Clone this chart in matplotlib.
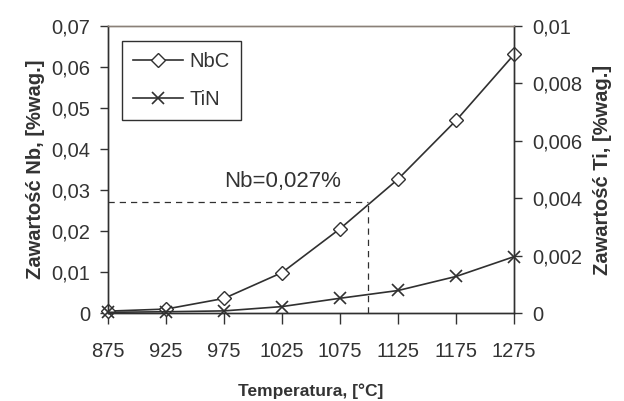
import matplotlib.pyplot as plt
import numpy as np

plt.rcParams['font.family'] = ['Liberation Sans', 'DejaVu Sans']

# X axis (categories)
temperatures = ["875", "925", "975", "1025", "1075", "1125", "1175", "1275"]

# Y axes
NbC = [0.0005, 0.001, 0.0036, 0.0099, 0.0206, 0.0327, 0.047, 0.0631]
TiN = [0.00003, 0.00005, 0.00008, 0.00023, 0.00052, 0.00079, 0.00128, 0.00197]

nb_level = 0.027
nb_pos = 4.48

left_ticks = ["0", "0,01", "0,02", "0,03", "0,04", "0,05", "0,06", "0,07"]
right_ticks = ["0", "0,002", "0,004", "0,006", "0,008", "0,01"]

txt = '#333333'
ln = '#303030'

fig = plt.figure(figsize=(6.24, 4.01), dpi=100)
ax = fig.add_axes([0.173, 0.219, 0.651, 0.716])
ax2 = ax.twinx()

x = np.arange(len(temperatures))
l1, = ax.plot(x, NbC, color=ln, lw=1.2, marker='D', markersize=7.5,
              markerfacecolor='white', markeredgecolor=ln, markeredgewidth=1.0,
              label="NbC", clip_on=False)
l2, = ax2.plot(x, TiN, color=ln, lw=1.2, marker='x', markersize=9,
               markeredgewidth=1.2, label="TiN", clip_on=False)

# dashed guide lines
ax.plot([0, nb_pos], [nb_level, nb_level], color=ln, lw=0.9, ls=(0, (5, 4)))
ax.plot([nb_pos, nb_pos], [0, nb_level], color=ln, lw=0.9, ls=(0, (5, 4)))
ax.text(3.01, 0.0322, "Nb=0,027%", fontsize=16, color=txt, ha='center', va='center')

ax.set_xlim(0, len(temperatures) - 1)
ax.set_ylim(0, 0.07)
ax2.set_ylim(0, 0.01)

ax.set_xticks(x)
ax.set_xticklabels(temperatures)
ax.set_yticks(np.linspace(0, 0.07, len(left_ticks)))
ax.set_yticklabels(left_ticks)
ax2.set_yticks(np.linspace(0, 0.01, len(right_ticks)))
ax2.set_yticklabels(right_ticks)

for a in (ax, ax2):
    a.tick_params(labelsize=14.5, colors=txt, length=6, width=1.0, direction='out', pad=7)
    for s in a.spines.values():
        s.set_color(ln)
        s.set_linewidth(1.0)
    a.spines['top'].set_color('#8a8078')
ax.tick_params(axis='x', length=8, pad=13)

ax.set_xlabel("Temperatura, [\u00b0C]", fontsize=12.5, fontweight='bold', color=txt, labelpad=16)
ax.set_ylabel("Zawartość Nb, [%wag.]", fontsize=14.5, fontweight='bold', color=txt, labelpad=4)
ax2.set_ylabel("Zawartość Ti, [%wag.]", fontsize=14.5, fontweight='bold', color=txt, labelpad=8)

leg = ax.legend(handles=[l1, l2], loc='upper left', bbox_to_anchor=(0.034, 0.948),
                fontsize=14.5, fancybox=False, framealpha=1, edgecolor=ln,
                handlelength=2.5, labelspacing=0.95, borderpad=0.55, handletextpad=0.3,
                borderaxespad=0)
leg.get_frame().set_linewidth(1.0)
for t in leg.get_texts():
    t.set_color(txt)
ax2.set_zorder(ax.get_zorder() + 1)
ax2.patch.set_visible(False)
leg.remove()
ax2.add_artist(leg)

plt.savefig("out.png", dpi=100)
